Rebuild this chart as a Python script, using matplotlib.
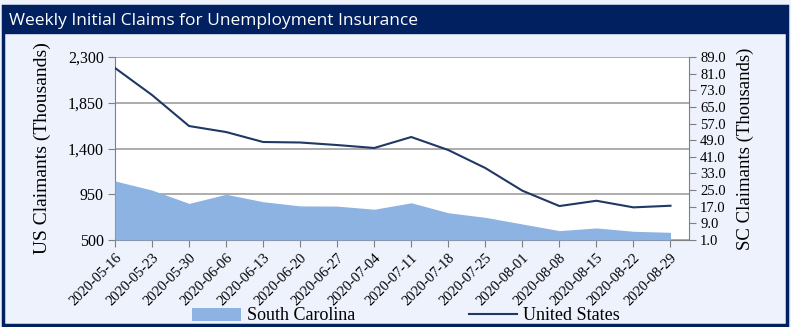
import numpy as np
import matplotlib.pyplot as plt
from matplotlib.patches import Rectangle, Patch
from matplotlib.lines import Line2D

dates = ['2020-05-16', '2020-05-23', '2020-05-30', '2020-06-06', '2020-06-13',
         '2020-06-20', '2020-06-27', '2020-07-04', '2020-07-11', '2020-07-18',
         '2020-07-25', '2020-08-01', '2020-08-08', '2020-08-15', '2020-08-22',
         '2020-08-29']
# US weekly claims (thousands)
us_claims = [2192, 1926, 1621, 1562, 1464, 1459, 1434, 1405, 1513, 1385,
             1208, 985, 834, 886, 821, 837]
# South Carolina weekly claims (thousands)
sc_claims = [29.4, 25.0, 18.6, 23.0, 19.4, 17.4, 17.3, 15.8, 18.9, 14.1,
             11.9, 8.7, 5.5, 6.8, 5.2, 4.7]

us_ticks = [500, 950, 1400, 1850, 2300]
sc_ticks = [1, 9, 17, 25, 33, 41, 49, 57, 65, 73, 81, 89]

navy = '#002060'
bg = '#EEF2FD'
serif = 'Liberation Serif'

fig = plt.figure(figsize=(7.91, 3.27), dpi=100, facecolor=bg)

# outer border + title bar
fig.patches.append(Rectangle((3/791, 2/327), 784/791, 319/327, transform=fig.transFigure,
                             facecolor=bg, edgecolor=navy, linewidth=2.5, zorder=-10))
fig.patches.append(Rectangle((3/791, 1 - 33/327), 784/791, 25/327, transform=fig.transFigure,
                             facecolor=navy, edgecolor=navy, zorder=-9))
fig.text(9/791, 1 - 21/327, 'Weekly Initial Claims for Unemployment Insurance',
         color='white', fontsize=12.5, family='Open Sans', va='center', ha='left')

ax = fig.add_axes([115/791, 1 - 240/327, 574/791, 183/327])
ax.set_facecolor('white')
x = np.arange(len(dates))
xmax = len(dates) - 0.5

# SC area on the secondary axis
ax2 = ax.twinx()
ax2.fill_between(x, 1, sc_claims, color='#8DB3E2', linewidth=0)
ax2.set_ylim(1, 89)
ax2.set_yticks(sc_ticks)
ax2.set_yticklabels(['%.1f' % v for v in sc_ticks], family=serif, fontsize=10.5)
ax2.set_ylabel('SC Claimants (Thousands)', family=serif, fontsize=13.5, labelpad=8)

# US line on top
ax3 = ax.twinx()
ax3.plot(x, us_claims, color='#1F3864', linewidth=1.5)
ax3.set_ylim(500, 2300)
ax3.set_yticks([])

ax.set_ylim(500, 2300)
ax.set_yticks(us_ticks)
ax.set_yticklabels(['{:,}'.format(v) for v in us_ticks], family=serif, fontsize=11.5)
ax.grid(axis='y', color='#A6A6A6', linewidth=1.3)
ax.set_axisbelow(True)
ax.set_ylabel('US Claimants (Thousands)', family=serif, fontsize=14, labelpad=12)

for a in (ax, ax2, ax3):
    a.set_xlim(0, xmax)
ax.set_xticks(x)
ax.set_xticklabels(dates, rotation=45, ha='right', rotation_mode='anchor',
                   family=serif, fontsize=10.5)

for a in (ax, ax2, ax3):
    for s in a.spines.values():
        s.set_visible(False)
ax.spines['left'].set_visible(True)
ax.spines['left'].set_color('#808080')
ax.spines['bottom'].set_visible(True)
ax.spines['bottom'].set_color('#808080')
ax2.spines['right'].set_visible(True)
ax2.spines['right'].set_color('#808080')
ax.tick_params(axis='both', color='#808080', length=5, pad=3)
ax2.tick_params(axis='y', color='#808080', length=5, pad=3)

handles = [Patch(facecolor='#8DB3E2', edgecolor='none'),
           Line2D([], [], color='#1F3864', linewidth=1.5)]
fig.legend(handles, ['South Carolina', 'United States'], loc='center',
           bbox_to_anchor=(406/791, 1 - 316/327), ncol=2, frameon=False,
           prop={'family': serif, 'size': 13}, handlelength=2.7,
           columnspacing=6.3, handletextpad=0.3)

fig.savefig('out.png', dpi=100, facecolor=bg)
